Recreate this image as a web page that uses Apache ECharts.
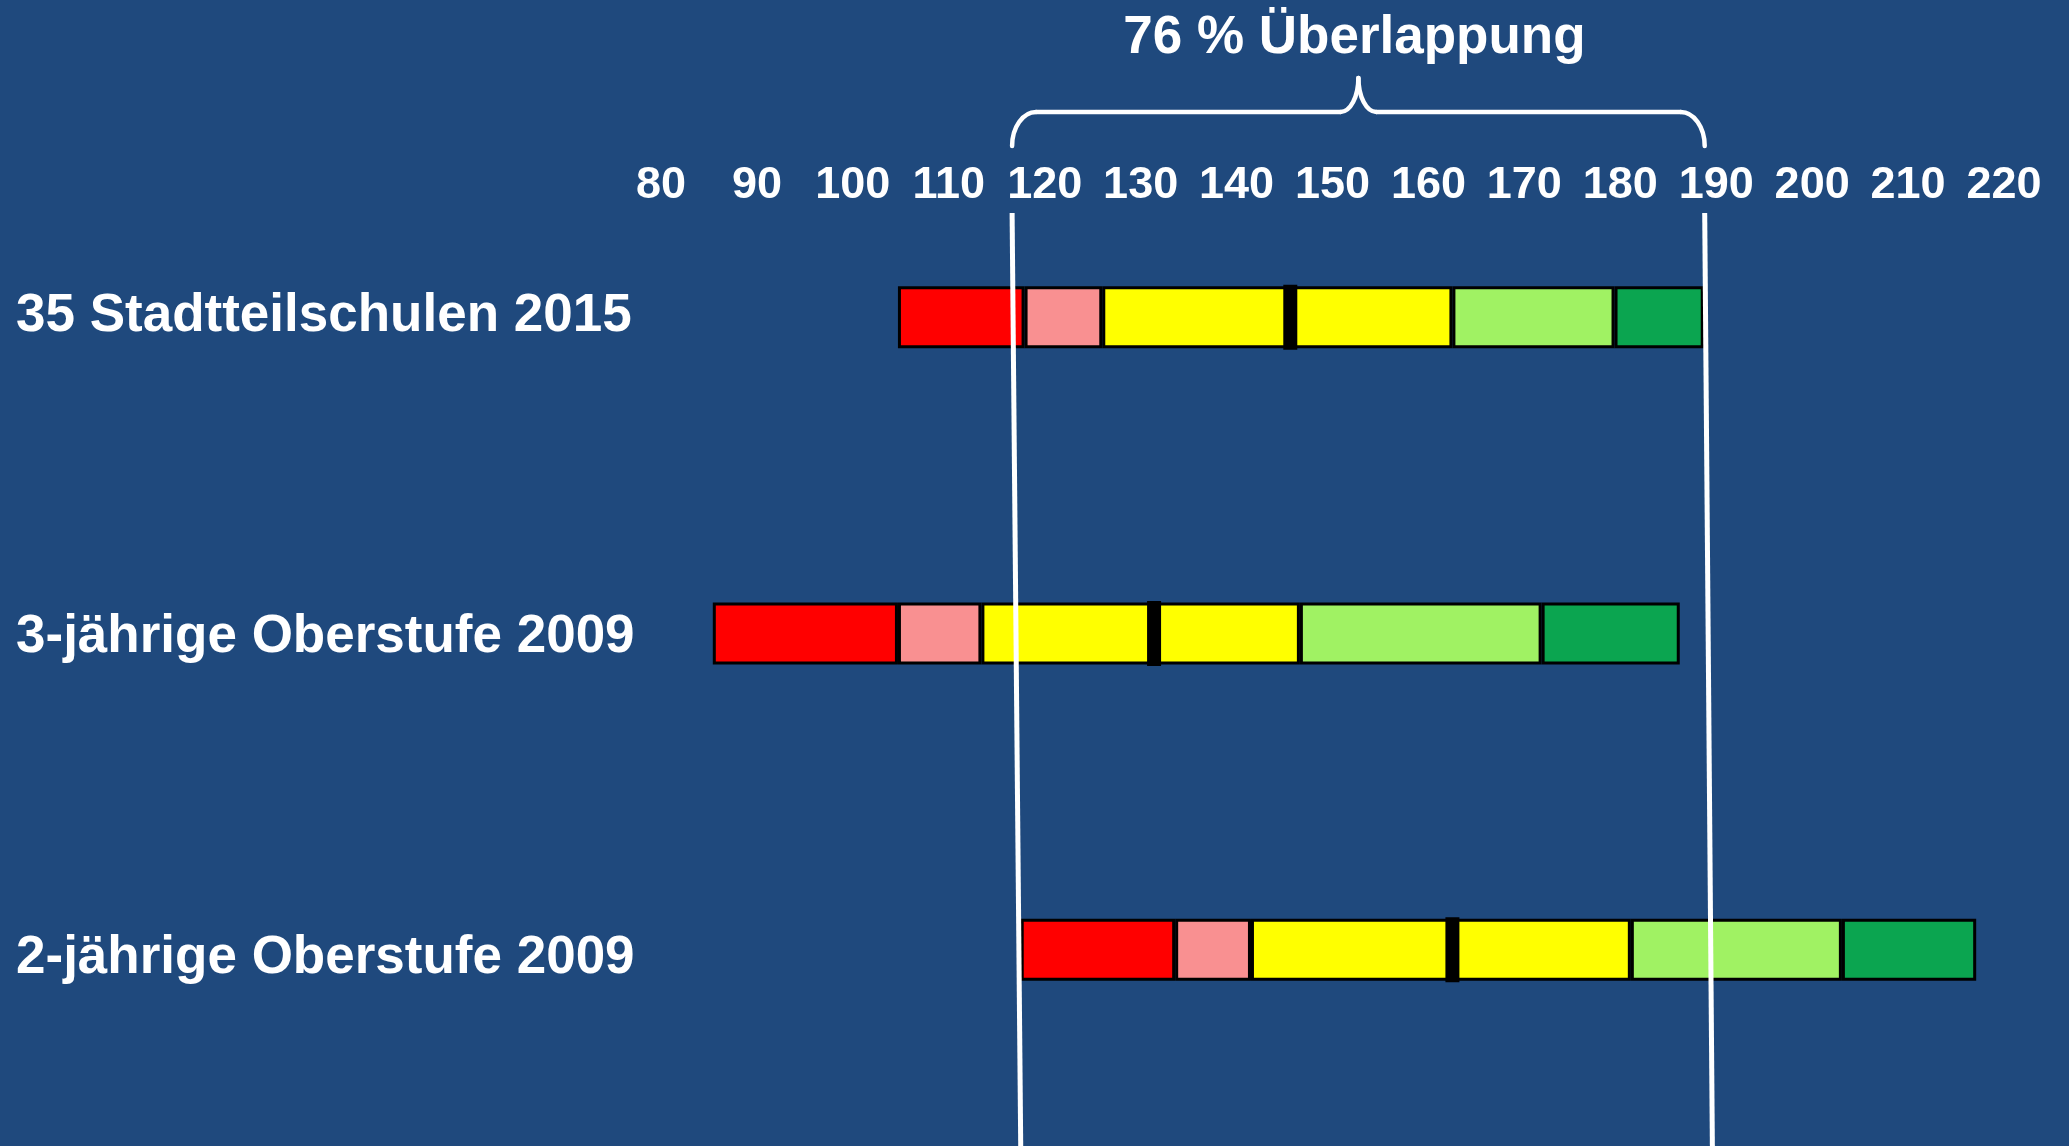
<!DOCTYPE html>
<html>
<head>
<meta charset="utf-8">
<script src="https://cdn.jsdelivr.net/npm/echarts@6/dist/echarts.min.js"></script>
<style>
  html, body { margin: 0; padding: 0; background: #1F497D; }
  #chart { width: 2069px; height: 1146px; }
</style>
</head>
<body>
<div id="chart"></div>
<script>
// ---- data ----
const categories = ['35 Stadtteilschulen 2015', '3-jährige Oberstufe 2009', '2-jährige Oberstufe 2009'];
const minVals    = [104.7,  85.4, 117.5];
const redEnd     = [117.9, 104.7, 133.6];
const pinkEnd    = [126.0, 113.4, 141.5];
const medians    = [145.6, 131.4, 162.5];
const yellowEnd  = [162.5, 146.6, 181.1];
const lgreenEnd  = [179.4, 171.8, 203.1];
const maxVals    = [188.7, 186.2, 217.1];
const xMin = 80, xMax = 220, xStep = 10;
const overlapLabel = '76 % Überlappung';
const overlapTop    = [116.6, 188.8];   // x values of the two white lines at their top
const overlapBottom = [117.5, 189.6];   // x values of the two white lines at the bottom

// ---- styles ----
const FONT = "'Liberation Sans', Arial, sans-serif";
const segColors = ['#FF0000', '#F99091', '#FFFF00', '#FFFF00', '#A0F263', '#0BA550'];
const bounds = [minVals, redEnd, pinkEnd, medians, yellowEnd, lgreenEnd, maxVals];
const labelShift = [[0, 0, 2, 0], [8, 0, 0, 0], [18, 0, 0, 0]]; // small vertical nudges of row labels

const series = [{
  type: 'bar', stack: 'r', data: minVals, barWidth: 62,
  itemStyle: { color: 'rgba(0,0,0,0)', borderWidth: 0 }, silent: true
}];
for (let s = 0; s < 6; s++) {
  series.push({
    type: 'bar', stack: 'r', barWidth: 62,
    data: categories.map((c, i) => +(bounds[s + 1][i] - bounds[s][i]).toFixed(3)),
    itemStyle: { color: segColors[s], borderColor: '#000', borderWidth: 3 }
  });
}
series.push({
  type: 'scatter', symbol: 'rect', symbolSize: [14, 65], z: 5,
  itemStyle: { color: '#000', opacity: 1 },
  data: medians.map((m, i) => [m, i])
});

const rich = {};
categories.forEach((c, i) => {
  rich['r' + i] = { color: '#fff', fontSize: 53, fontWeight: 'bold', fontFamily: FONT, padding: labelShift[i] };
});

const chart = echarts.init(document.getElementById('chart'), null, { renderer: 'canvas' });
chart.setOption({
  backgroundColor: '#1F497D',
  animation: false,
  grid: { left: 661, right: 65, top: 159, bottom: 38, containLabel: false },
  xAxis: {
    type: 'value', position: 'top', min: xMin, max: xMax, interval: xStep,
    axisLine: { show: false }, axisTick: { show: false }, splitLine: { show: false },
    axisLabel: { inside: true, margin: 4, color: '#fff', fontSize: 45, fontWeight: 'bold', fontFamily: FONT }
  },
  yAxis: {
    type: 'category', data: categories, inverse: true,
    axisLine: { show: false }, axisTick: { show: false }, splitLine: { show: false },
    axisLabel: {
      align: 'left', margin: 645, color: '#fff', fontSize: 53, fontWeight: 'bold', fontFamily: FONT,
      formatter: (v, i) => `{r${i}|${v}}`, rich: rich
    }
  },
  series: series
});

// ---- overlap annotation ----
const px = v => chart.convertToPixel({ xAxisIndex: 0 }, v);
const x1 = px(overlapTop[0]), x2 = px(overlapTop[1]);
const b1 = px(overlapBottom[0]), b2 = px(overlapBottom[1]);
const xm = (x1 + x2) / 2;
const yH = 112, yEnd = 146, yCusp = 78;
const rx = 24, cx = 18;
const ws = { stroke: '#fff', lineWidth: 4.5, fill: null, lineCap: 'round' };
const curve = (ax, ay, c1x, c1y, c2x, c2y, bx, by) => ({
  type: 'bezierCurve', z: 10, style: ws,
  shape: { x1: ax, y1: ay, cpx1: c1x, cpy1: c1y, cpx2: c2x, cpy2: c2y, x2: bx, y2: by }
});
const seg = (ax, ay, bx, by) => ({ type: 'line', z: 10, style: ws, shape: { x1: ax, y1: ay, x2: bx, y2: by } });
const ky = 0.55 * (yEnd - yH), kc = 0.55 * (yH - yCusp);

chart.setOption({
  graphic: [
    { type: 'line', shape: { x1: x1, y1: 213, x2: b1, y2: 1146 }, style: { stroke: '#fff', lineWidth: 5 }, z: 10 },
    { type: 'line', shape: { x1: x2, y1: 213, x2: b2, y2: 1146 }, style: { stroke: '#fff', lineWidth: 5 }, z: 10 },
    curve(x1, yEnd, x1, yEnd - ky, x1 + rx - 0.55 * rx, yH, x1 + rx, yH),
    seg(x1 + rx, yH, xm - cx, yH),
    curve(xm - cx, yH, xm - cx + 0.55 * cx, yH, xm, yCusp + kc, xm, yCusp),
    curve(xm, yCusp, xm, yCusp + kc, xm + cx - 0.55 * cx, yH, xm + cx, yH),
    seg(xm + cx, yH, x2 - rx, yH),
    curve(x2 - rx, yH, x2 - rx + 0.55 * rx, yH, x2, yEnd - ky, x2, yEnd),
    { type: 'text', x: xm - 4, y: 38, z: 10,
      style: { text: overlapLabel, fill: '#fff', fontSize: 53, fontWeight: 'bold', fontFamily: FONT,
               align: 'center', verticalAlign: 'middle' } }
  ]
});
</script>
</body>
</html>
